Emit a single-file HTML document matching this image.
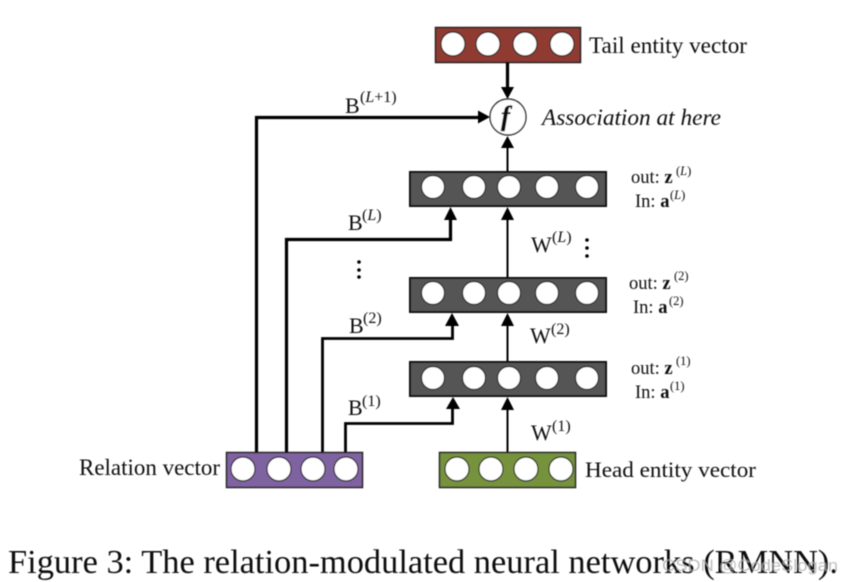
<!DOCTYPE html>
<html>
<head>
<meta charset="utf-8">
<style>
html,body{margin:0;padding:0;background:#fff;width:852px;height:582px;overflow:hidden}
svg{display:block}
text{font-family:"Liberation Serif",serif;fill:#111}
.c{fill:#fff;stroke:#222;stroke-width:1.2}
.b{stroke:#222;stroke-width:1.5}
.g{fill:#555;stroke:#111;stroke-width:2}
.t{fill:none;stroke:#000;stroke-width:3.2}
.n{fill:none;stroke:#000;stroke-width:2}
.l{font-size:22px}
.s{font-size:18.5px}
.r{font-size:16px}
.q{font-size:12.5px}
</style>
</head>
<body>
<svg width="852" height="582" viewBox="0 0 852 582" xmlns="http://www.w3.org/2000/svg">
<defs><filter id="bl" x="-2%" y="-2%" width="104%" height="104%"><feGaussianBlur stdDeviation="0.45"/></filter></defs>
<g filter="url(#bl)">
<!-- boxes -->
<rect x="435.5" y="27.5" width="145" height="35" fill="#8f3a32" class="b"/>
<g class="c"><circle cx="453" cy="44" r="12"/><circle cx="488" cy="44" r="12"/><circle cx="525" cy="44" r="12"/><circle cx="562" cy="44" r="12"/></g>

<rect x="410" y="172" width="196" height="34" class="g"/>
<g class="c"><circle cx="433" cy="187" r="11.5"/><circle cx="474" cy="187" r="11.5"/><circle cx="509" cy="187" r="11.5"/><circle cx="547" cy="187" r="11.5"/><circle cx="587" cy="187" r="11.5"/></g>

<rect x="410" y="278" width="196" height="34" class="g"/>
<g class="c"><circle cx="433" cy="293" r="11.5"/><circle cx="474" cy="293" r="11.5"/><circle cx="509" cy="293" r="11.5"/><circle cx="547" cy="293" r="11.5"/><circle cx="587" cy="293" r="11.5"/></g>

<rect x="410" y="362" width="196" height="34" class="g"/>
<g class="c"><circle cx="433" cy="378" r="11.5"/><circle cx="474" cy="378" r="11.5"/><circle cx="509" cy="378" r="11.5"/><circle cx="547" cy="378" r="11.5"/><circle cx="587" cy="378" r="11.5"/></g>

<rect x="226.5" y="452.5" width="136" height="35" fill="#7f62a0" class="b"/>
<g class="c"><circle cx="243" cy="469" r="12"/><circle cx="279" cy="469" r="12"/><circle cx="313" cy="469" r="12"/><circle cx="346" cy="469" r="12"/></g>

<rect x="439.5" y="452.5" width="136" height="35" fill="#76923c" class="b"/>
<g class="c"><circle cx="457" cy="469" r="12"/><circle cx="491" cy="469" r="12"/><circle cx="526" cy="469" r="12"/><circle cx="561" cy="469" r="12"/></g>

<circle cx="508" cy="117" r="18" fill="#fff" stroke="#222" stroke-width="1.4"/>

<!-- connectors -->
<path class="t" d="M507.5 62V88"/>
<path d="M501 87H514L507.5 99Z" fill="#000"/>
<path class="t" d="M256.5 452V117.5H480"/>
<path d="M478 110.5L490 117L478 123.5Z" fill="#000"/>
<path class="t" d="M286.5 452V239.5H450.5V218"/>
<path class="t" d="M322.5 452V338.5H452.5V324" style="stroke-width:2.8"/>
<path class="t" d="M345.5 452V423.5H452.5V408" style="stroke-width:2.8"/>
<path d="M444 220L450.5 207L457 220Z" fill="#000"/>
<path d="M445 326L452 313L459 326Z" fill="#000"/>
<path d="M446 409L453 397L460 409Z" fill="#000"/>
<path class="n" d="M507.5 171V146"/>
<path class="n" d="M507.5 277V219"/>
<path class="n" d="M507.5 361V325"/>
<path class="n" d="M507.5 452V409"/>
<path d="M501 148L507.5 136L514 148Z" fill="#000"/>
<path d="M501 220L507.5 207L514 220Z" fill="#000"/>
<path d="M501 326L507.5 313L514 326Z" fill="#000"/>
<path d="M501 410L507.5 397L514 410Z" fill="#000"/>

<!-- dots -->
<g fill="#000"><circle cx="359" cy="262" r="1.8"/><circle cx="359" cy="270" r="1.8"/><circle cx="359" cy="277" r="1.8"/>
<circle cx="587" cy="240" r="1.8"/><circle cx="587" cy="248" r="1.8"/><circle cx="587" cy="256" r="1.8"/></g>

<!-- labels -->
<text x="589" y="53" font-size="23" textLength="158" lengthAdjust="spacingAndGlyphs">Tail entity vector</text>
<text x="501" y="125" font-size="27" font-style="italic" font-weight="bold" stroke="#111" stroke-width="0.5">f</text>
<text x="542" y="125" font-size="23.2" font-style="italic" textLength="179" lengthAdjust="spacingAndGlyphs">Association at here</text>

<text x="345" y="113" class="l">B</text><text x="360" y="102" class="r">(<tspan font-style="italic">L</tspan>+1)</text>
<text x="348" y="230" class="l">B</text><text x="362" y="220" class="r">(<tspan font-style="italic">L</tspan>)</text>
<text x="349" y="333" class="l">B</text><text x="363" y="323" class="r">(2)</text>
<text x="348" y="415" class="l">B</text><text x="362" y="406" class="r">(1)</text>

<text x="531" y="252" class="l">W</text><text x="552" y="242" class="r">(<tspan font-style="italic">L</tspan>)</text>
<text x="530" y="343" class="l">W</text><text x="551" y="334" class="r">(2)</text>
<text x="531" y="440" class="l">W</text><text x="552" y="431" class="r">(1)</text>

<text x="631" y="183" class="s">out: <tspan font-weight="bold">z</tspan></text><text x="676" y="175" class="q">(<tspan font-style="italic">L</tspan>)</text>
<text x="635" y="207" class="s">In: <tspan font-weight="bold">a</tspan></text><text x="670" y="199" class="q">(<tspan font-style="italic">L</tspan>)</text>
<text x="629" y="289" class="s">out: <tspan font-weight="bold">z</tspan></text><text x="674" y="280" class="q">(2)</text>
<text x="633" y="313" class="s">In: <tspan font-weight="bold">a</tspan></text><text x="669" y="305" class="q">(2)</text>
<text x="631" y="374" class="s">out: <tspan font-weight="bold">z</tspan></text><text x="676" y="365" class="q">(1)</text>
<text x="635" y="398" class="s">In: <tspan font-weight="bold">a</tspan></text><text x="670" y="390" class="q">(1)</text>

<text x="79" y="475" font-size="23" textLength="141" lengthAdjust="spacingAndGlyphs">Relation vector</text>
<text x="585" y="477" font-size="21.7" textLength="171" lengthAdjust="spacingAndGlyphs">Head entity vector</text>

<text x="8" y="573" font-size="33.7" textLength="830" lengthAdjust="spacingAndGlyphs">Figure 3: The relation-modulated neural networks (RMNN).</text>
<text x="662" y="571" font-size="17" style="font-family:'Liberation Sans',sans-serif;fill:#aaa;opacity:.75" textLength="176" lengthAdjust="spacingAndGlyphs">CSDN @CodeSlogan</text>
</g>
</svg>
</body>
</html>
